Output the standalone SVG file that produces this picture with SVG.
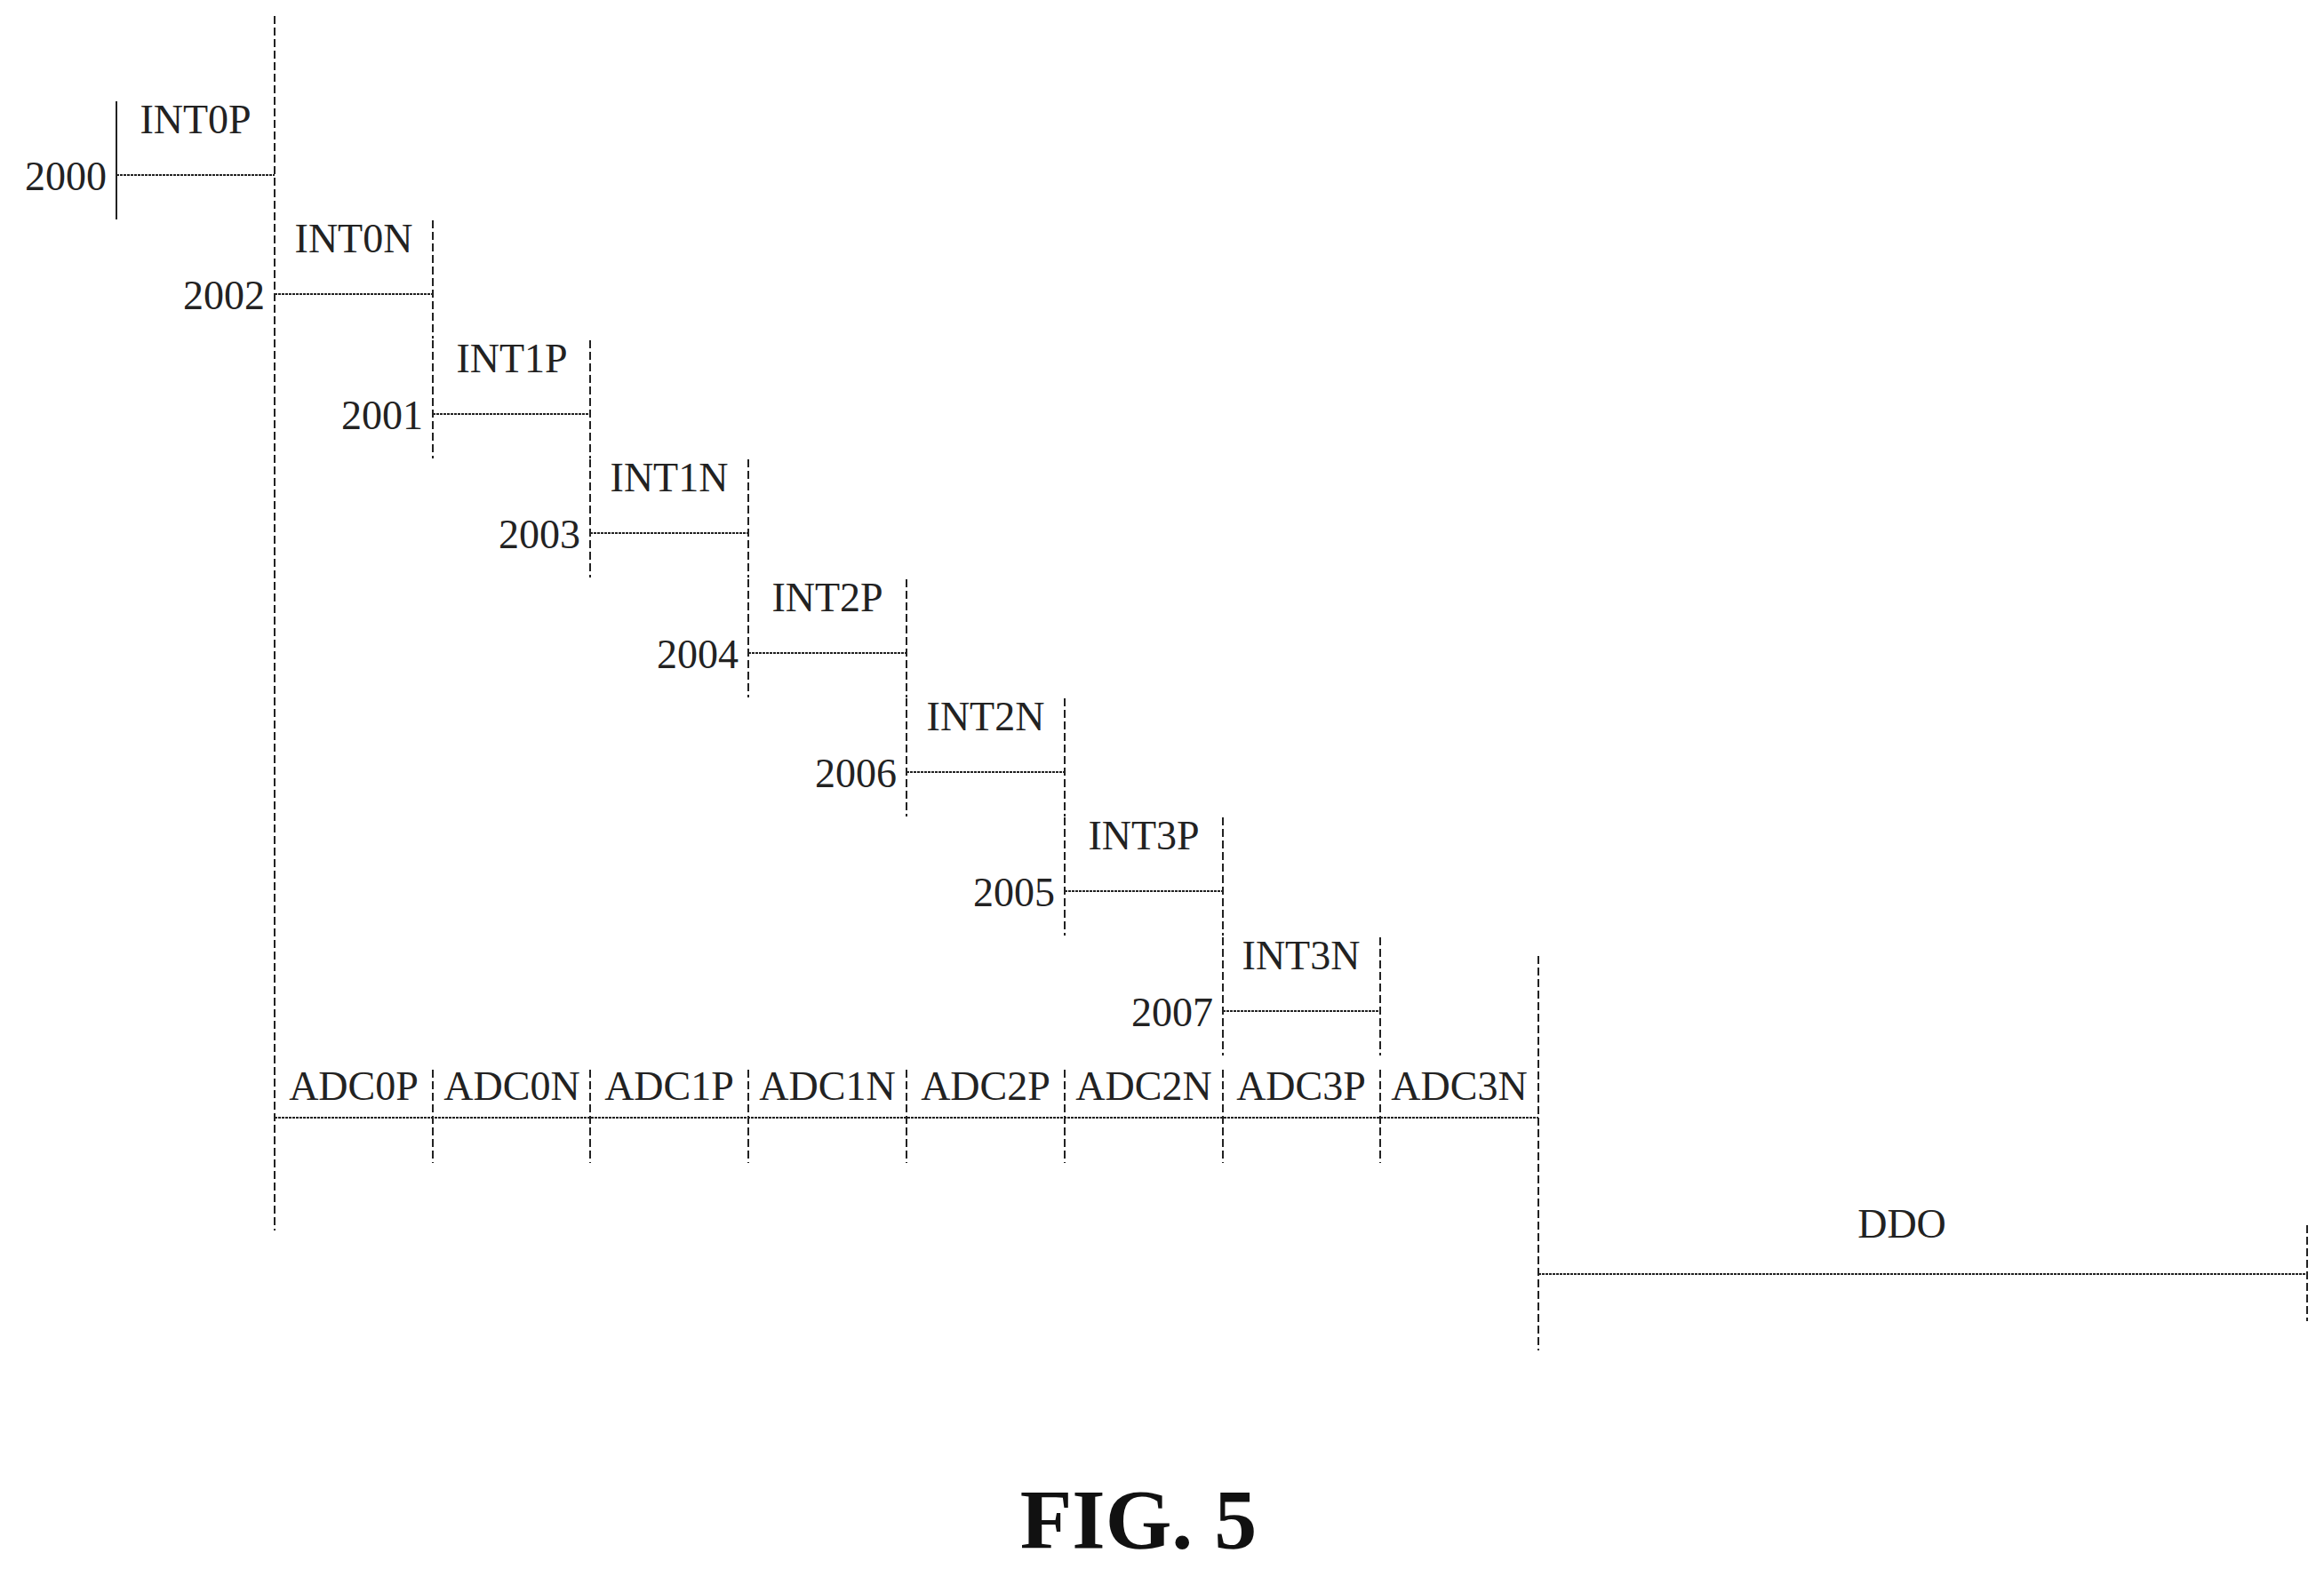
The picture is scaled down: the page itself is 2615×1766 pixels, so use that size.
<svg xmlns="http://www.w3.org/2000/svg" width="2615" height="1766" viewBox="0 0 2615 1766">
<style>
text{font-family:"Liberation Serif","Times New Roman",serif;font-size:46px;fill:#222}
.m{text-anchor:middle}.e{text-anchor:end}
line{stroke:#222;stroke-width:2}
.h{stroke-dasharray:3 1}.v{stroke-dasharray:9 4}
.fig{font-size:96px;font-weight:bold;fill:#111}
</style>
<rect width="2615" height="1766" fill="#fff"/>
<g id="connectors">
<line class="v" x1="309" y1="18" x2="309" y2="1385"/>
<line x1="131" y1="114" x2="131" y2="247"/>
<line class="h" x1="131" y1="197" x2="309" y2="197"/>
<line class="h" x1="309" y1="331" x2="487" y2="331"/><line class="v" x1="487" y1="248" x2="487" y2="381"/>
<line class="h" x1="487" y1="466" x2="664" y2="466"/><line class="v" x1="487" y1="383" x2="487" y2="516"/><line class="v" x1="664" y1="383" x2="664" y2="516"/>
<line class="h" x1="664" y1="600" x2="842" y2="600"/><line class="v" x1="664" y1="517" x2="664" y2="650"/><line class="v" x1="842" y1="517" x2="842" y2="650"/>
<line class="h" x1="842" y1="735" x2="1020" y2="735"/><line class="v" x1="842" y1="652" x2="842" y2="785"/><line class="v" x1="1020" y1="652" x2="1020" y2="785"/>
<line class="h" x1="1020" y1="869" x2="1198" y2="869"/><line class="v" x1="1020" y1="786" x2="1020" y2="919"/><line class="v" x1="1198" y1="786" x2="1198" y2="919"/>
<line class="h" x1="1198" y1="1003" x2="1376" y2="1003"/><line class="v" x1="1198" y1="920" x2="1198" y2="1053"/><line class="v" x1="1376" y1="920" x2="1376" y2="1053"/>
<line class="h" x1="1376" y1="1138" x2="1553" y2="1138"/><line class="v" x1="1376" y1="1055" x2="1376" y2="1188"/><line class="v" x1="1553" y1="1055" x2="1553" y2="1188"/>
<line class="h" x1="309" y1="1258" x2="1731" y2="1258"/>
<line class="v" x1="487" y1="1204" x2="487" y2="1309"/><line class="v" x1="664" y1="1204" x2="664" y2="1309"/><line class="v" x1="842" y1="1204" x2="842" y2="1309"/><line class="v" x1="1020" y1="1204" x2="1020" y2="1309"/><line class="v" x1="1198" y1="1204" x2="1198" y2="1309"/><line class="v" x1="1376" y1="1204" x2="1376" y2="1309"/><line class="v" x1="1553" y1="1204" x2="1553" y2="1309"/>
<line class="v" x1="1731" y1="1076" x2="1731" y2="1520"/>
<line class="h" x1="1731" y1="1434" x2="2596" y2="1434"/>
<line class="v" x1="2596" y1="1379" x2="2596" y2="1487"/>
</g>
<g id="int"><text class="m" x="220" y="150">INT0P</text><text class="e" x="120" y="214">2000</text></g>
<g id="n2002"><text class="m" x="398" y="284">INT0N</text><text class="e" x="298" y="348">2002</text></g>
<g id="n2001"><text class="m" x="576" y="419">INT1P</text><text class="e" x="476" y="483">2001</text></g>
<g id="n2003"><text class="m" x="753" y="553">INT1N</text><text class="e" x="653" y="617">2003</text></g>
<g id="n2004"><text class="m" x="931" y="688">INT2P</text><text class="e" x="831" y="752">2004</text></g>
<g id="n2006"><text class="m" x="1109" y="822">INT2N</text><text class="e" x="1009" y="886">2006</text></g>
<g id="n2005"><text class="m" x="1287" y="956">INT3P</text><text class="e" x="1187" y="1020">2005</text></g>
<g id="n2007"><text class="m" x="1464" y="1091">INT3N</text><text class="e" x="1365" y="1155">2007</text></g>
<g id="adc">
<text class="m" x="398" y="1238">ADC0P</text><text class="m" x="576" y="1238">ADC0N</text><text class="m" x="753" y="1238">ADC1P</text><text class="m" x="931" y="1238">ADC1N</text><text class="m" x="1109" y="1238">ADC2P</text><text class="m" x="1287" y="1238">ADC2N</text><text class="m" x="1464" y="1238">ADC3P</text><text class="m" x="1642" y="1238">ADC3N</text>
</g>
<g id="ddo"><text class="m" x="2140" y="1393">DDO</text></g>
<text class="m fig" x="1281" y="1743">FIG. 5</text>
</svg>
